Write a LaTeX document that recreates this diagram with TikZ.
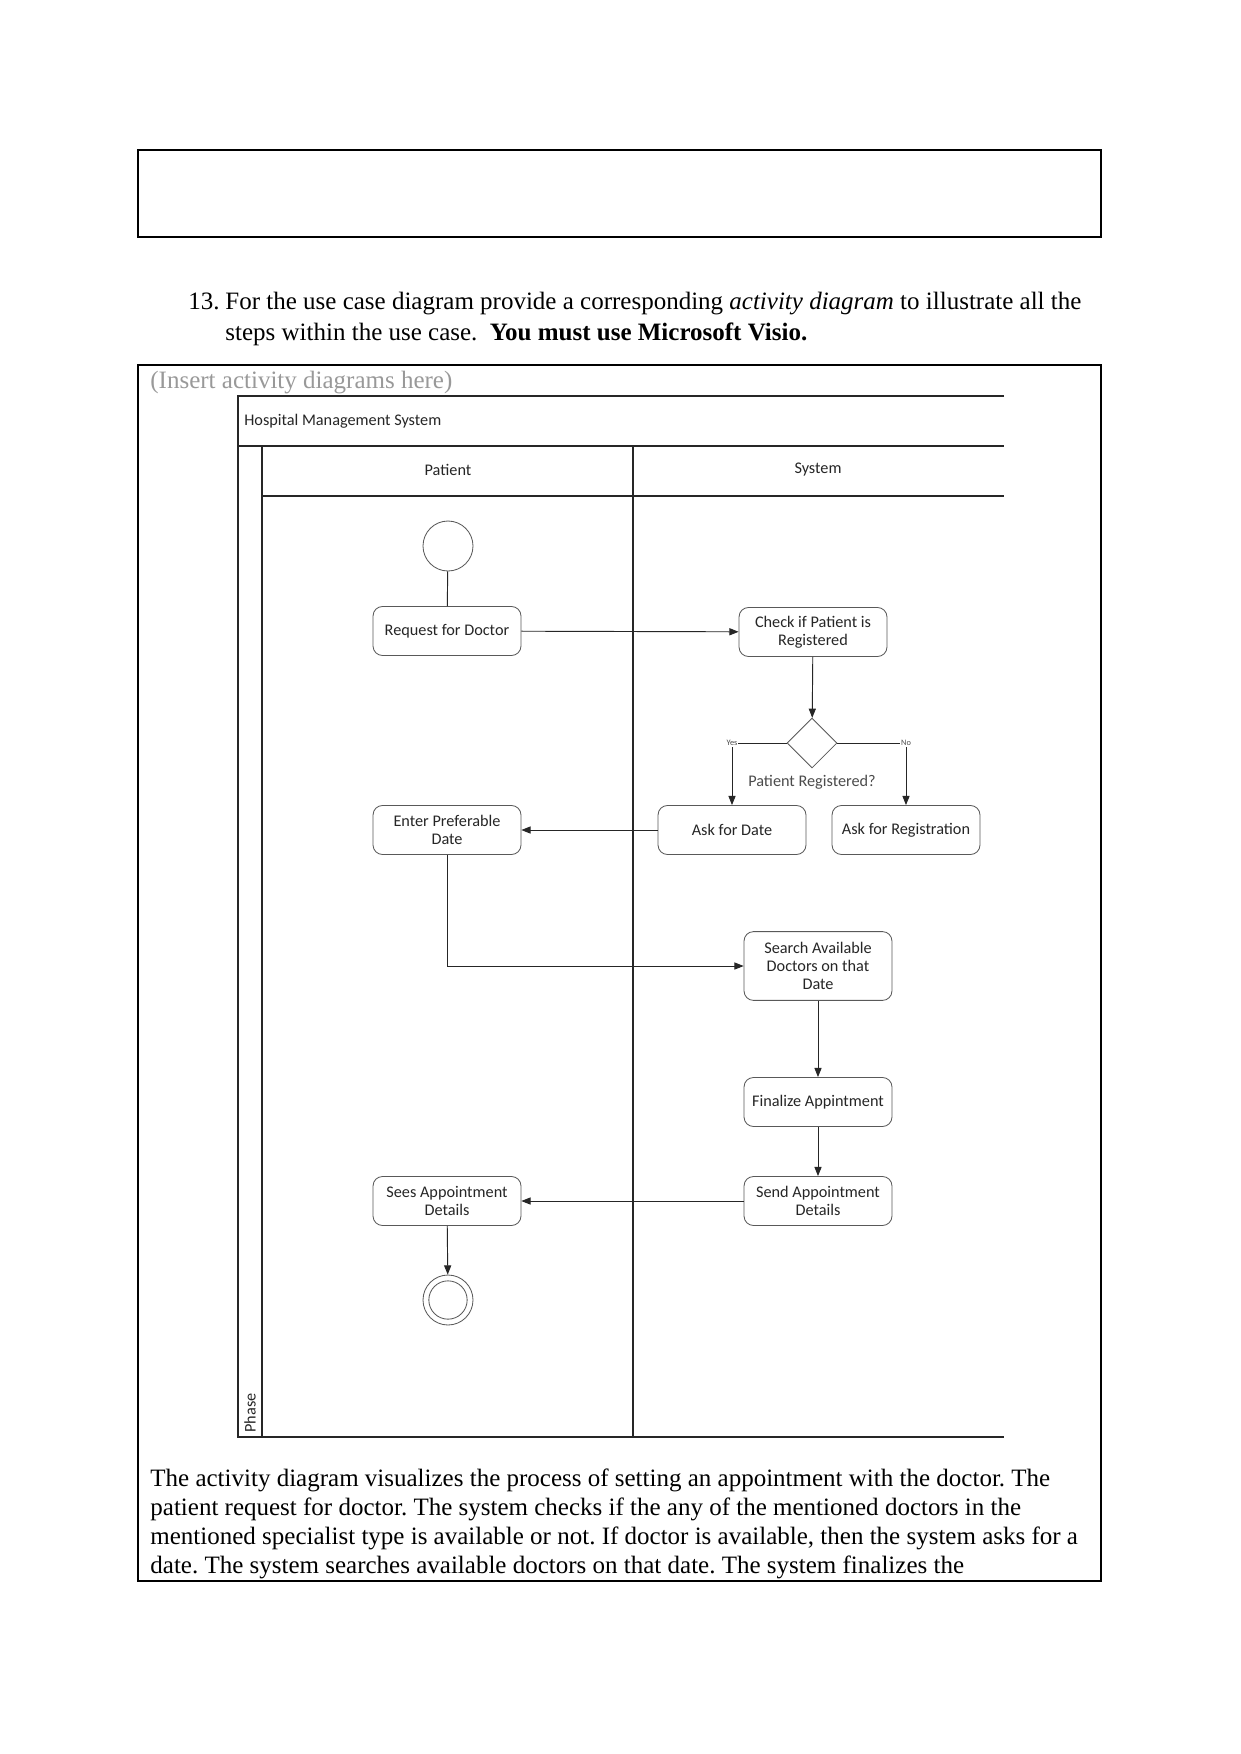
\documentclass[tikz,border=0pt]{standalone}
\usepackage{fontspec}
\setmainfont{Liberation Serif}
\newfontfamily\visiofont{Carlito}
\usetikzlibrary{arrows.meta,shapes.geometric}
\frenchspacing
\tikzset{
  act/.style={draw=black!65, rounded corners=4.5pt, minimum width=71pt, minimum height=23.5pt,
    align=center, inner sep=1pt, font=\visiofont\fontsize{7.8}{8.8}\selectfont, text=black!85},
  flow/.style={draw=black!85, line width=0.45pt, -{Triangle[length=4.4pt,width=3.4pt]}},
  link/.style={draw=black!85, line width=0.45pt},
  lane/.style={draw=black!85, line width=0.5pt},
  lbl/.style={font=\visiofont\fontsize{7.8}{9}\selectfont, text=black!85},
  tinylbl/.style={font=\visiofont\fontsize{4}{5}\selectfont, text=black!70, inner sep=0.4pt, fill=white},
  body/.style={font=\fontsize{12}{13.8}\selectfont, inner sep=0pt, align=left},
}
\begin{document}
\begin{tikzpicture}[x=0.48pt, y=-0.48pt]
  \useasboundingbox[fill=white] (0,0) rectangle (1241,1754);
  % empty answer box
  \draw[line width=0.6pt] (138,150) rectangle (1101,237);
  % question 13
  \node[body, anchor=base west] (qnum) at (188,309) {13.};
  \node[body, anchor=base west] (qline1) at (225,309) {For the use case diagram provide a corresponding \textit{activity diagram} to illustrate all the};
  \node[body, anchor=base west] (qline2) at (225,340) {steps within the use case.\ \ \textbf{You must use Microsoft Visio.}};
  % answer box
  \draw[line width=0.6pt] (138,365) rectangle (1101,1581);
  \node[body, anchor=base west, text=black!40] (hint) at (150,388) {(Insert activity diagrams here)};
  % swimlanes
  \draw[lane] (1004,396) -- (238,396) -- (238,1437) -- (1004,1437);
  \draw[lane] (238,446) -- (1004,446);
  \draw[lane] (262,446) -- (262,1437);
  \draw[lane] (262,496) -- (1004,496);
  \draw[lane] (633,446) -- (633,1437);
  \node[lbl, anchor=west] (title) at (237,421) {Hospital Management System};
  \node[lbl] (patient) at (448,470) {Patient};
  \node[lbl] (system) at (818,470) {System};
  \node[lbl, rotate=90] (phase) at (250,1413) {Phase};
  % activities
  \node[circle, draw=black!65, minimum size=24pt, inner sep=0pt] (start) at (448,546) {};
  \node[act] (req) at (447,631) {Request for Doctor};
  \node[act] (check) at (813,632) {Check if Patient is\\Registered};
  \node[diamond, draw=black!65, minimum width=24pt, minimum height=24pt, inner sep=0pt] (dec) at (812,743) {};
  \node[lbl, text=black!70] (decq) at (812,782) {Patient Registered?};
  \node[act] (askdate) at (732,830) {Ask for Date};
  \node[act] (askreg) at (906,830) {Ask for Registration};
  \node[act] (enter) at (447,830) {Enter Preferable\\Date};
  \node[act, minimum height=33pt] (search) at (818,966) {Search Available\\Doctors on that\\Date};
  \node[act] (final) at (818,1102) {Finalize Appintment};
  \node[act] (send) at (818,1201) {Send Appointment\\Details};
  \node[act] (sees) at (447,1201) {Sees Appointment\\Details};
  \node[circle, draw=black!65, minimum size=24pt, inner sep=0pt] (stop) at (448,1300) {};
  \draw[black!65] (stop.center) circle (9.2pt);
  % flows
  \draw[link] (start) -- (req);
  \draw[flow] (req) -- (check);
  \draw[flow] (check) -- (dec);
  \draw[flow] (dec.west) -| node[tinylbl, pos=0.5] {Yes} (askdate.north);
  \draw[flow] (dec.east) -| node[tinylbl, pos=0.5] {No} (askreg.north);
  \draw[flow] (askdate) -- (enter);
  \draw[flow] (enter.south) |- (search.west);
  \draw[flow] (search) -- (final);
  \draw[flow] (final) -- (send);
  \draw[flow] (send) -- (sees);
  \draw[flow] (sees) -- (stop);
  % description (base = last line)
  \node[body, anchor=base west] (desc) at (150,1573) {The activity diagram visualizes the process of setting an appointment with the doctor. The\\
    patient request for doctor. The system checks if the any of the mentioned doctors in the\\
    mentioned specialist type is available or not. If doctor is available, then the system asks for a\\
    date. The system searches available doctors on that date. The system finalizes the};
\end{tikzpicture}
\end{document}
